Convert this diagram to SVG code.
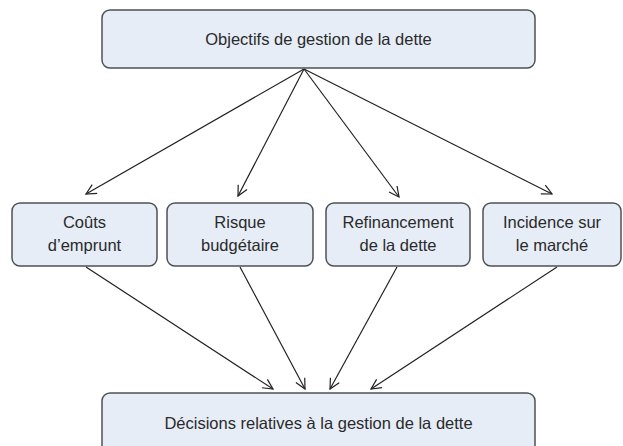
<svg xmlns="http://www.w3.org/2000/svg" width="623" height="446" viewBox="0 0 623 446">
<style>
.box{fill:#e6edf7;stroke:#4f5156;stroke-width:1.5}
.lbl{font-family:"Liberation Sans",Arial,sans-serif;font-size:16.5px;fill:#2a2a2a;text-anchor:middle}
.edge{stroke:#222;stroke-width:1.2;fill:none;marker-end:url(#arr)}
</style>
<defs>
<marker id="arr" viewBox="0 0 12 12" refX="11" refY="6" markerWidth="12" markerHeight="12" markerUnits="userSpaceOnUse" orient="auto">
<path d="M1,1 L11,6 L1,11" fill="none" stroke="#222" stroke-width="1.2"/>
</marker>
</defs>
<g id="connectors">
<line class="edge" x1="304" y1="69" x2="86" y2="194"/>
<line class="edge" x1="304" y1="69" x2="238" y2="196"/>
<line class="edge" x1="304" y1="69" x2="399" y2="197"/>
<line class="edge" x1="304" y1="69" x2="552" y2="194"/>
<line class="edge" x1="86" y1="267" x2="273" y2="389"/>
<line class="edge" x1="240" y1="267" x2="305" y2="389"/>
<line class="edge" x1="397" y1="267" x2="330" y2="389"/>
<line class="edge" x1="557" y1="267" x2="371" y2="389"/>
</g>
<g id="objectifs">
<rect class="box" x="102" y="10" width="433" height="58" rx="8"/>
<text class="lbl" x="318.5" y="45">Objectifs de gestion de la dette</text>
</g>
<g id="couts">
<rect class="box" x="12" y="203" width="145" height="63" rx="8"/>
<text class="lbl" x="84.5" y="228">Coûts</text>
<text class="lbl" x="84.5" y="251">d’emprunt</text>
</g>
<g id="risque">
<rect class="box" x="167" y="203" width="146" height="63" rx="8"/>
<text class="lbl" x="240" y="228">Risque</text>
<text class="lbl" x="240" y="251">budgétaire</text>
</g>
<g id="refinancement">
<rect class="box" x="326" y="203" width="144" height="63" rx="8"/>
<text class="lbl" x="398" y="228">Refinancement</text>
<text class="lbl" x="398" y="251">de la dette</text>
</g>
<g id="incidence">
<rect class="box" x="483" y="203" width="138" height="63" rx="8"/>
<text class="lbl" x="552" y="228">Incidence sur</text>
<text class="lbl" x="552" y="251">le marché</text>
</g>
<g id="decisions">
<rect class="box" x="102" y="393" width="433" height="70" rx="8"/>
<text class="lbl" x="318.5" y="429">Décisions relatives à la gestion de la dette</text>
</g>
</svg>
